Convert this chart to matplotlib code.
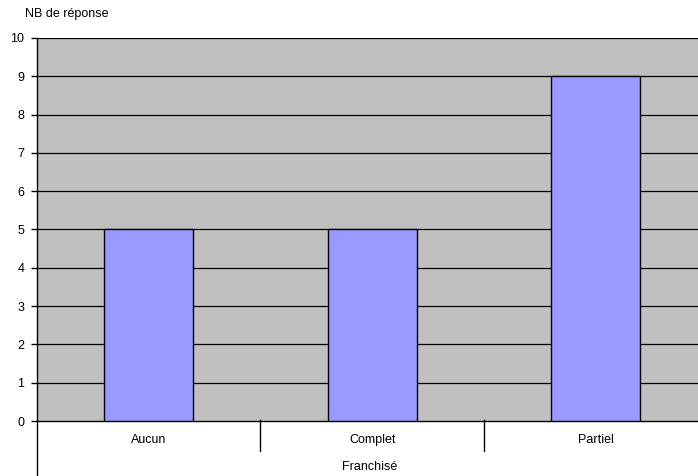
import matplotlib
matplotlib.use("Agg")
import matplotlib.pyplot as plt
from matplotlib.lines import Line2D

plt.rcParams['font.family'] = ['Liberation Sans', 'DejaVu Sans']

categories = ["Aucun", "Complet", "Partiel"]
values = [5, 5, 9]
yticks = list(range(0, 11))
y_title = "NB de réponse"
x_title = "Franchisé"

fig = plt.figure(figsize=(6.98, 4.76), dpi=100)
ax = fig.add_axes([37 / 698, 55 / 476, 1 - 37 / 698, 383 / 476])
ax.set_facecolor("#C0C0C0")

x = list(range(len(categories)))
ax.bar(x, values, width=0.40, color="#9999FF", edgecolor="black", linewidth=1.0, zorder=3)

ax.set_ylim(0, 10)
ax.set_xlim(-0.5, 2.458)
ax.set_yticks(yticks)
ax.set_yticklabels([str(v) for v in yticks], fontsize=9)
for v in yticks[1:]:
    ax.axhline(v, color="black", linewidth=0.9, zorder=1)

ax.set_xticks([])
for s in ("top", "right"):
    ax.spines[s].set_visible(False)
ax.spines["left"].set_linewidth(1.0)
ax.spines["bottom"].set_linewidth(1.0)
ax.tick_params(axis="y", length=4, width=1.0, pad=5)

# category labels and separators below the axis
trans = ax.get_xaxis_transform()
for i, c in enumerate(categories):
    ax.text(i, -0.05, c, transform=trans, ha="center", va="center", fontsize=9)
for b in (0.5, 1.5):
    ax.add_line(Line2D([b, b], [0.003, -0.078], transform=trans, color="black",
                       linewidth=1.0, clip_on=False))
ax.add_line(Line2D([-0.5, -0.5], [0, -0.15], transform=trans, color="black",
                   linewidth=1.0, clip_on=False))

fig.text(370 / 698, 1 - 467 / 476, x_title, ha="center", va="center", fontsize=9)
fig.text(25 / 698, 1 - 14 / 476, y_title, ha="left", va="center", fontsize=9)

fig.savefig("out.png", dpi=100)
